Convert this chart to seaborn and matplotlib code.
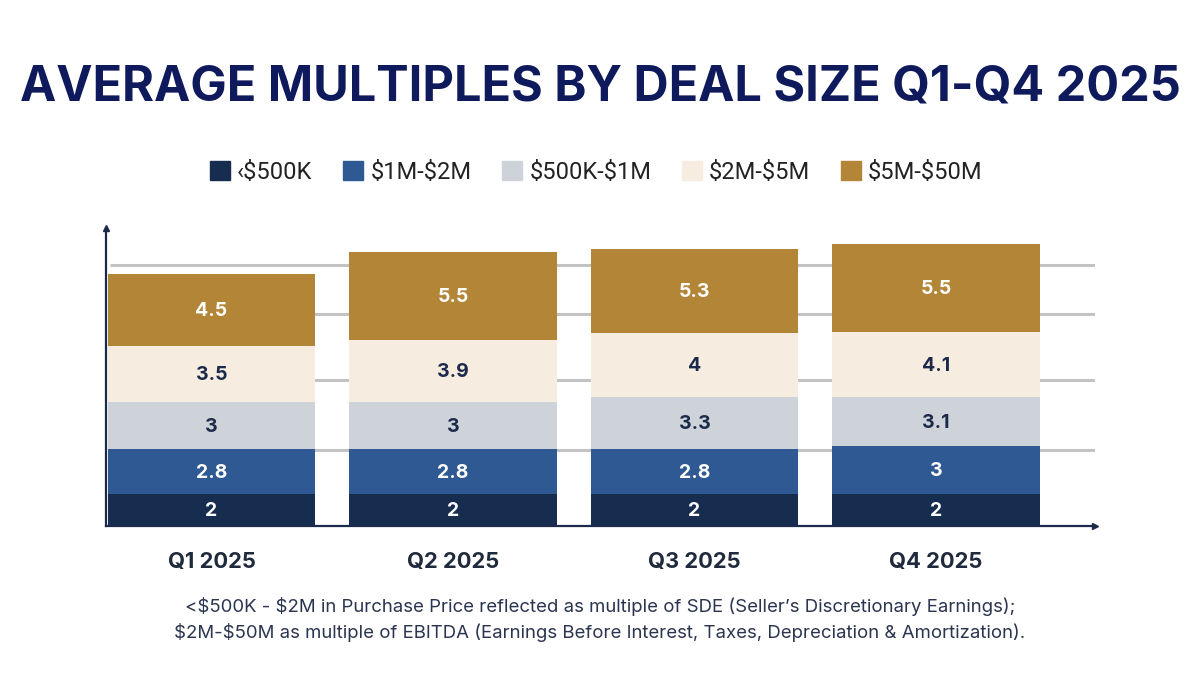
import matplotlib
matplotlib.use("Agg")
import matplotlib.pyplot as plt
import seaborn as sns
import numpy as np
import pandas as pd
from matplotlib.patches import Patch

quarters = ["Q1 2025", "Q2 2025", "Q3 2025", "Q4 2025"]
series_names = ["‹$500K", "$1M-$2M", "$500K-$1M", "$2M-$5M", "$5M-$50M"]
v_lt500k = [2, 2, 2, 2]
v_1m_2m = [2.8, 2.8, 2.8, 3]
v_500k_1m = [3, 3, 3.3, 3.1]
v_2m_5m = [3.5, 3.9, 4, 4.1]
v_5m_50m = [4.5, 5.5, 5.3, 5.5]
grid_levels = [4.76, 9.15, 13.3, 16.4]

colors = ["#172D4F", "#2E5993", "#CED3DA", "#F7ECE0", "#B38537"]
label_colors = ["white", "white", "#1B2A4A", "#1B2A4A", "white"]

series = [v_lt500k, v_1m_2m, v_500k_1m, v_2m_5m, v_5m_50m]

sns.set_theme(style="white")
plt.rcParams['font.family'] = ['Inter', 'DejaVu Sans']
plt.rcParams['text.parse_math'] = False

fig = plt.figure(figsize=(12, 7), dpi=100)
ax = fig.add_axes([0.0883, 0.2486, 0.824, 0.4257])

cum = np.cumsum(np.array(series, dtype=float), axis=0)

for lvl in grid_levels:
    ax.axhline(lvl, xmin=0.004, xmax=1.0, color="#C3C3C3", lw=2.2, zorder=0, solid_capstyle="butt")

for i in range(len(series) - 1, -1, -1):
    df = pd.DataFrame({"quarter": quarters, "value": cum[i]})
    sns.barplot(data=df, x="quarter", y="value", color=colors[i], width=0.86,
                saturation=1, ax=ax, zorder=2, linewidth=0, edgecolor=colors[i])

for i, vals in enumerate(series):
    for j, v in enumerate(vals):
        y = cum[i][j] - v / 2
        ax.text(j, y - 0.08, f"{v:g}", ha="center", va="center", fontsize=14,
                fontweight="bold", color=label_colors[i], zorder=5)

ax.set_xlim(-0.437, 3.658)
ax.set_ylim(0, 18.7)
ax.set_xlabel("")
ax.set_ylabel("")
ax.set_yticks([])
ax.tick_params(axis="x", length=0, pad=19)
for lab in ax.get_xticklabels():
    lab.set_fontsize(15.8)
    lab.set_fontweight("bold")
    lab.set_color("#1F2A3C")

for s in ["top", "right"]:
    ax.spines[s].set_visible(False)
for s in ["left", "bottom"]:
    ax.spines[s].set_color("#1B2A4A")
    ax.spines[s].set_linewidth(1.6)
    ax.spines[s].set_zorder(6)
ax.plot(1, 0, ">", transform=ax.transAxes, color="#1B2A4A", ms=5, clip_on=False, zorder=7)
ax.plot(0, 1, "^", transform=ax.transAxes, color="#1B2A4A", ms=5, clip_on=False, zorder=7)

fig.text(0.5, 0.857, "AVERAGE MULTIPLES BY DEAL SIZE Q1-Q4 2025", ha="center", va="baseline",
         fontsize=35, fontweight="bold", color="#0E1A5B")

handles = [Patch(facecolor=c, edgecolor=c) for c in colors]
leg = fig.legend(handles, series_names, loc="center", bbox_to_anchor=(0.497, 0.754), ncol=5,
                 frameon=False, handlelength=0.85, handleheight=0.85,
                 columnspacing=1.3, handletextpad=0.3,
                 prop={"family": ["Roboto", "DejaVu Sans"], "size": 17})
for t in leg.get_texts():
    t.set_color("#222222")

fig.text(0.5, 0.133, "<$500K - $2M in Purchase Price reflected as multiple of SDE (Seller’s Discretionary Earnings);",
         ha="center", va="center", fontsize=13.4, color="#2B3550")
fig.text(0.5, 0.096, "$2M-$50M as multiple of EBITDA (Earnings Before Interest, Taxes, Depreciation & Amortization).",
         ha="center", va="center", fontsize=13.4, color="#2B3550")

fig.savefig("out.png", dpi=100)
